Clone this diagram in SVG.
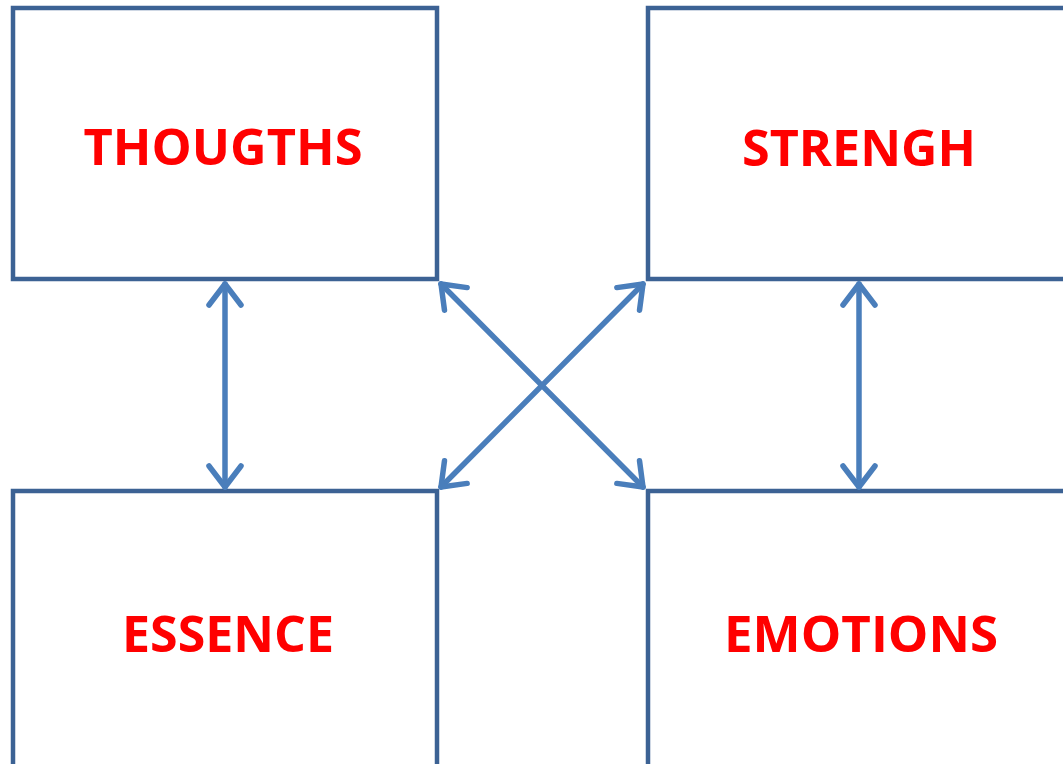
<svg xmlns="http://www.w3.org/2000/svg" width="1063" height="764" viewBox="0 0 1063 764">
<style>
.box{fill:#fff;stroke:#3C6294;stroke-width:4.5}
.lbl{font-family:"Open Sans","Liberation Sans",sans-serif;font-weight:bold;font-size:50px;fill:#FF0000;text-anchor:middle}
.conn{stroke:#4A7EBB;stroke-width:5.5;fill:none;stroke-linecap:round;marker-start:url(#ah);marker-end:url(#ah)}
</style>
<defs>
<marker id="ah" markerUnits="userSpaceOnUse" viewBox="-30 -25 40 50" refX="0" refY="0" markerWidth="40" markerHeight="50" orient="auto-start-reverse">
<path d="M -21 -16 L 0 0 L -21 16" fill="none" stroke="#4A7EBB" stroke-width="5.5" stroke-linecap="round" stroke-linejoin="round"/>
</marker>
</defs>
<rect width="1063" height="764" fill="#fff"/>
<g id="thoughts"><rect class="box" x="13" y="8" width="424" height="271"/><text class="lbl" x="223" y="165" textLength="279" lengthAdjust="spacingAndGlyphs">THOUGTHS</text></g>
<g id="strengh"><rect class="box" x="648" y="8" width="430" height="271"/><text class="lbl" x="859" y="166" textLength="234" lengthAdjust="spacingAndGlyphs">STRENGH</text></g>
<g id="essence"><rect class="box" x="13" y="491" width="424" height="290"/><text class="lbl" x="228" y="652" textLength="212" lengthAdjust="spacingAndGlyphs">ESSENCE</text></g>
<g id="emotions"><rect class="box" x="648" y="491" width="430" height="290"/><text class="lbl" x="861" y="652" textLength="274" lengthAdjust="spacingAndGlyphs">EMOTIONS</text></g>
<g id="connectors">
<line class="conn" x1="225" y1="284" x2="225" y2="487"/>
<line class="conn" x1="859" y1="284" x2="859" y2="487"/>
<line class="conn" x1="441" y1="284" x2="643" y2="487"/>
<line class="conn" x1="643" y1="284" x2="441" y2="487"/>
</g>
</svg>
